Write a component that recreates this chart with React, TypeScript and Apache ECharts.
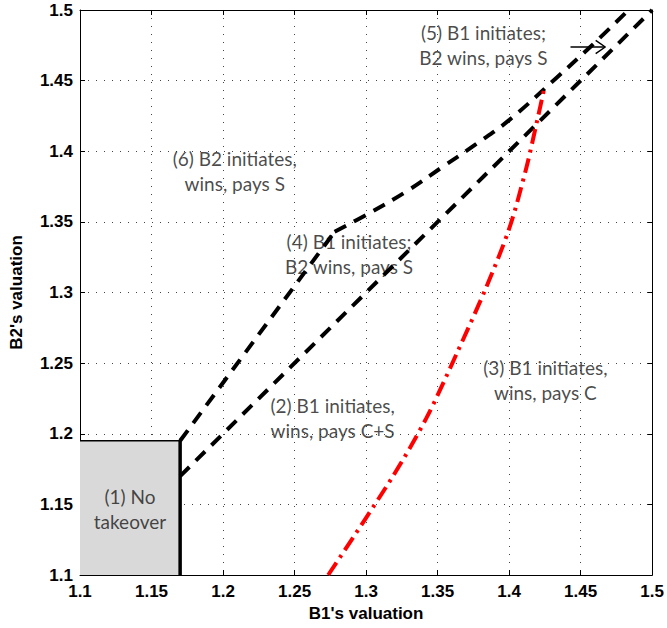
import React, { useEffect, useRef } from "react";
import * as echarts from "echarts";

// Axis range / ticks
const axisMin = 1.1;
const axisMax = 1.5;
const tickStep = 0.05;

// (1) No takeover box
const boxX = [1.1, 1.17];
const boxY = [1.1, 1.195];

// Upper dashed boundary: straight part up to the kink, then a curve
const upperStraight: number[][] = [
  [1.17, 1.195],
  [1.278, 1.343],
];
const upperCurve: number[][] = [
  [1.278, 1.343],
  [1.3024, 1.3563],
  [1.3283, 1.3716],
  [1.3534, 1.3889],
  [1.3771, 1.4052],
  [1.4002, 1.4222],
  [1.433, 1.4519],
  [1.4574, 1.4745],
  [1.4835, 1.5],
];

// Lower dashed boundary (diagonal)
const diagonalBoundary: number[][] = [
  [1.17, 1.17],
  [1.5, 1.5],
];

// Red dash-dot boundary
const redBoundary: number[][] = [
  [1.2735, 1.1],
  [1.3185, 1.1695],
  [1.3422, 1.2112],
  [1.3639, 1.258],
  [1.3841, 1.304],
  [1.4002, 1.3457],
  [1.412, 1.3882],
  [1.4197, 1.4222],
  [1.4246, 1.4448],
];

// Arrow near label (5)
const arrowShaft: number[][] = [
  [1.4429, 1.4738],
  [1.4672, 1.4738],
];
const arrowHead: number[][] = [
  [1.4605, 1.4785],
  [1.4672, 1.4738],
  [1.4605, 1.4691],
];

// Region labels
const regionLabels = [
  "(1) No\ntakeover",
  "(2) B1 initiates,\nwins, pays C+S",
  "(3) B1 initiates,\nwins, pays C",
  "(4) B1 initiates;\nB2 wins, pays S",
  "(5) B1 initiates;\nB2 wins, pays S",
  "(6) B2 initiates,\nwins, pays S",
];
const regionLabelX = [1.1349, 1.2766, 1.4253, 1.2881, 1.382, 1.2082];
const regionLabelY = [1.1464, 1.2109, 1.2378, 1.327, 1.4749, 1.386];

const xName = "B1's valuation";
const yName = "B2's valuation";

const tickFont = {
  fontFamily: "'Liberation Sans', Arial, sans-serif",
  fontWeight: "bold" as const,
  fontSize: 17,
  color: "#000",
};

export default function App() {
  const ref = useRef<HTMLDivElement>(null);

  useEffect(() => {
    if (!ref.current) return;
    const chart = echarts.init(ref.current, undefined, { renderer: "svg" });

    const baseAxis = {
      type: "value" as const,
      min: axisMin,
      max: axisMax,
      interval: tickStep,
      axisLine: { show: true, onZero: false, lineStyle: { color: "#000", width: 1 } },
      axisTick: { show: true, inside: true, length: 5, lineStyle: { color: "#000", width: 1 } },
    };

    const dashed = { color: "#000", width: 4, type: [13, 9] };

    chart.setOption({
      animation: false,
      backgroundColor: "#fff",
      grid: { left: 80, right: 14, top: 10, bottom: 53, containLabel: false },
      xAxis: [
        {
          ...baseAxis,
          position: "bottom",
          axisLabel: { ...tickFont, margin: 8 },
          splitLine: { show: true, lineStyle: { color: "#444", width: 1, type: [1, 7] } },
          name: xName,
          nameLocation: "middle",
          nameGap: 29,
          nameTextStyle: { ...tickFont },
        },
        {
          ...baseAxis,
          position: "top",
          axisLabel: { show: false },
          splitLine: { show: false },
        },
      ],
      yAxis: [
        {
          ...baseAxis,
          position: "left",
          axisLabel: { ...tickFont, margin: 7 },
          splitLine: { show: true, lineStyle: { color: "#444", width: 1, type: [1, 7] } },
          name: yName,
          nameLocation: "middle",
          nameGap: 55,
          nameTextStyle: { ...tickFont },
        },
        {
          ...baseAxis,
          position: "right",
          axisLabel: { show: false },
          splitLine: { show: false },
        },
      ],
      series: [
        {
          type: "line",
          xAxisIndex: 0,
          yAxisIndex: 0,
          data: [
            [boxX[0], boxY[1]],
            [boxX[1], boxY[1]],
            [boxX[1], boxY[0]],
          ],
          symbol: "none",
          lineStyle: { color: "#000", width: 1.5 },
          areaStyle: { color: "#d9d9d9", opacity: 1 },
          z: 1,
        },
        {
          type: "line",
          data: [
            [boxX[1], boxY[1]],
            [boxX[1], boxY[0]],
          ],
          symbol: "none",
          lineStyle: { color: "#000", width: 3.5 },
          z: 3,
        },
        {
          type: "line",
          data: upperStraight,
          symbol: "none",
          lineStyle: dashed,
          z: 3,
        },
        {
          type: "line",
          data: upperCurve,
          symbol: "none",
          smooth: 0.4,
          lineStyle: dashed,
          z: 3,
        },
        {
          type: "line",
          data: diagonalBoundary,
          symbol: "none",
          lineStyle: dashed,
          z: 3,
        },
        {
          type: "line",
          data: redBoundary,
          symbol: "none",
          smooth: 0.3,
          lineStyle: { color: "#ff0000", width: 4, type: [15, 6, 3, 6] },
          z: 3,
        },
        {
          type: "line",
          data: arrowShaft,
          symbol: "none",
          lineStyle: { color: "#000", width: 1.5 },
          z: 4,
        },
        {
          type: "line",
          data: arrowHead,
          symbol: "none",
          lineStyle: { color: "#000", width: 1.5 },
          z: 4,
        },
        {
          type: "scatter",
          symbolSize: 0,
          data: regionLabels.map((t, i) => ({
            name: t,
            value: [regionLabelX[i], regionLabelY[i]],
          })),
          label: {
            show: true,
            position: "inside",
            formatter: "{b}",
            fontFamily: "Lato, 'Open Sans', sans-serif",
            fontSize: 19,
            lineHeight: 25,
            color: "#1a1a1a",
            align: "center",
            verticalAlign: "middle",
          },
          z: 2,
          silent: true,
        },
      ],
    });

    return () => chart.dispose();
  }, []);

  return (
    <div
      ref={ref}
      style={{ position: "fixed", left: 0, top: 0, width: 667, height: 628 }}
    />
  );
}
